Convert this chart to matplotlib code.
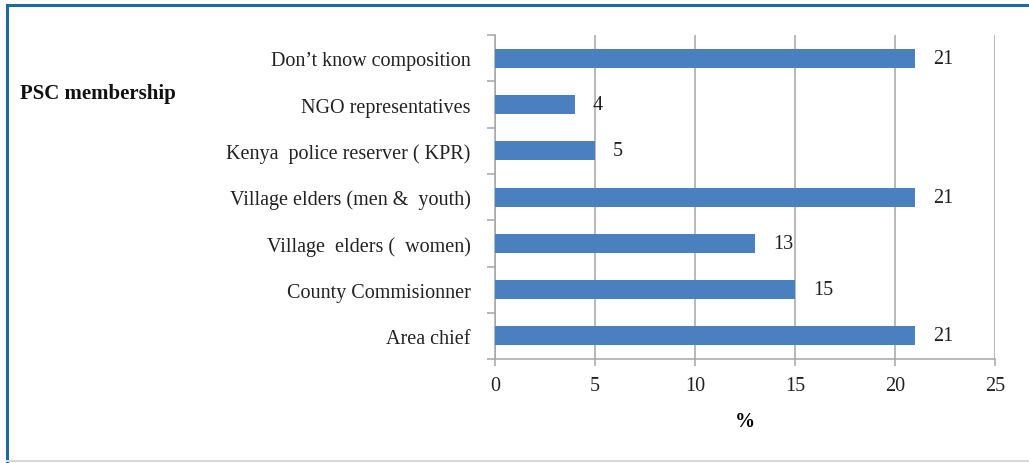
import matplotlib
matplotlib.use("Agg")
import matplotlib.pyplot as plt
from matplotlib.lines import Line2D

# PSC membership categories, bottom to top as drawn
categories = [
    "Area chief",
    "County Commisionner",
    "Village  elders (  women)",
    "Village elders (men &  youth)",
    "Kenya  police reserver ( KPR)",
    "NGO representatives",
    "Don\u2019t know composition",
]
values = [21, 15, 13, 21, 5, 4, 21]
x_ticks = [0, 5, 10, 15, 20, 25]

bar_color = "#4a80bf"
grid_color = "#a6a6a6"
frame_color = "#1c6a9e"
fs = 14.5

plt.rcParams["font.family"] = ["Liberation Serif", "DejaVu Serif"]

fig = plt.figure(figsize=(10.29, 4.64), dpi=100)
ax = fig.add_axes([0.481, 0.224, 0.486, 0.698])

y = range(len(categories))
ax.barh(y, values, height=0.41, color=bar_color, zorder=3)

for yi, v in zip(y, values):
    ax.text(v + 0.9, yi, str(v), va="center", ha="left", fontsize=fs, color="#222222")

ax.set_xlim(0, 25)
ax.set_ylim(-0.5, len(categories) - 0.5)
ax.set_xticks(x_ticks)
ax.set_xticklabels([str(t) for t in x_ticks], fontsize=fs, color="#222222")
ax.tick_params(axis="x", length=5, width=1.1, color=grid_color, pad=7)

# category labels without ticks, ticks at category boundaries
ax.set_yticks(list(y))
ax.set_yticklabels([c + " " for c in categories], fontsize=fs, color="#222222")
ax.tick_params(axis="y", which="major", length=0, pad=14)
ax.set_yticks([i - 0.5 for i in range(len(categories) + 1)], minor=True)
ax.tick_params(axis="y", which="minor", length=5.5, width=1.1, color=grid_color)

ax.xaxis.grid(True, color=grid_color, linewidth=1.1, zorder=0)
ax.set_axisbelow(True)
for side in ["top", "right"]:
    ax.spines[side].set_visible(False)
for side in ["left", "bottom"]:
    ax.spines[side].set_color(grid_color)
    ax.spines[side].set_linewidth(1.1)

ax.set_xlabel("%", fontsize=fs, fontweight="bold", labelpad=12)
fig.text(0.019, 0.797, "PSC membership", fontsize=fs + 0.5, fontweight="bold",
         ha="left", va="center", color="#111111")

# frame around the figure
fig.add_artist(Line2D([0.0065, 1.0], [0.987, 0.987], color=frame_color, linewidth=2.2,
                      transform=fig.transFigure))
fig.add_artist(Line2D([0.0065, 0.0065], [0.0, 0.987], color=frame_color, linewidth=2.2,
                      transform=fig.transFigure))
fig.add_artist(Line2D([0.0065, 1.0], [0.004, 0.004], color="#d8d8d8", linewidth=1.5,
                      transform=fig.transFigure))

fig.savefig("out.png", dpi=100)
